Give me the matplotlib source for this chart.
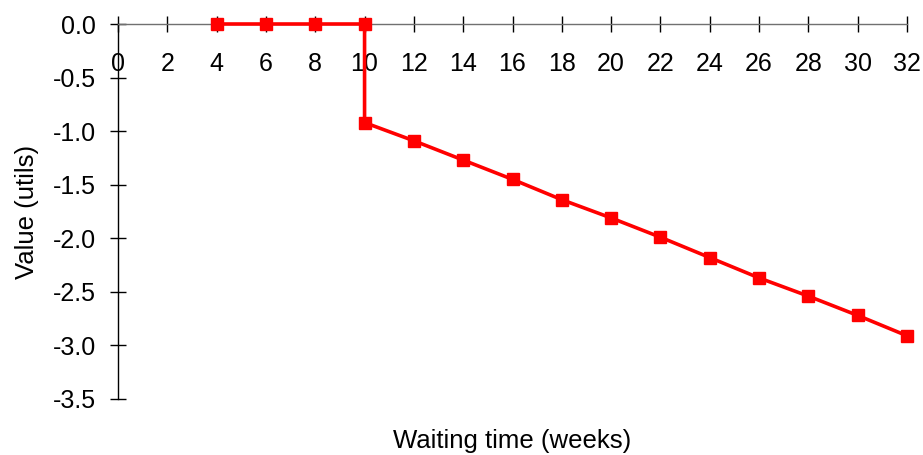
import matplotlib
matplotlib.use("Agg")
import matplotlib.pyplot as plt

weeks = [4, 6, 8, 10, 10, 12, 14, 16, 18, 20, 22, 24, 26, 28, 30, 32]
value = [0.0, 0.0, 0.0, 0.0, -0.92, -1.09, -1.27, -1.45, -1.64, -1.81, -1.99, -2.18, -2.37, -2.54, -2.72, -2.91]
x_ticks = list(range(0, 33, 2))
y_ticks = [0.0, -0.5, -1.0, -1.5, -2.0, -2.5, -3.0, -3.5]
y_tick_labels = ["0.0", "-0.5", "-1.0", "-1.5", "-2.0", "-2.5", "-3.0", "-3.5"]

plt.rcParams['font.family'] = ['Liberation Sans', 'DejaVu Sans']

W, H = 923, 455
fig = plt.figure(figsize=(W / 100, H / 100), dpi=100)
ax = fig.add_axes([118 / W, 56 / H, (907 - 118) / W, (399 - 24) / H])

ax.plot(weeks, value, color='#ff0000', lw=2.6, marker='s', markersize=8.5,
        markeredgecolor='#ff0000', markerfacecolor='#ff0000', clip_on=False, zorder=5)

ax.set_xlim(0, 32)
ax.set_ylim(-3.5, 0)

ax.spines['top'].set_visible(False)
ax.spines['right'].set_visible(False)
ax.spines['bottom'].set_position(('data', 0))
ax.spines['bottom'].set_color('#707070')
ax.spines['left'].set_color('black')
ax.spines['bottom'].set_linewidth(1.0)
ax.spines['left'].set_linewidth(1.0)

ax.set_xticks(x_ticks)
ax.set_xticklabels([str(t) for t in x_ticks])
ax.set_yticks(y_ticks)
ax.set_yticklabels(y_tick_labels)

ax.tick_params(axis='x', direction='inout', length=11, width=1, pad=14.5, labelsize=18, colors='black')
ax.tick_params(axis='y', direction='inout', length=11, width=1, pad=10.5, labelsize=18, colors='black')

fig.text((118 + 907) / 2 / W, 1 - 441 / H, "Waiting time (weeks)", ha='center', va='center', fontsize=18.5)
fig.text(27 / W, 1 - 212 / H, "Value (utils)", ha='center', va='center', rotation=90, fontsize=18.5)

fig.savefig("out.png", dpi=100)
